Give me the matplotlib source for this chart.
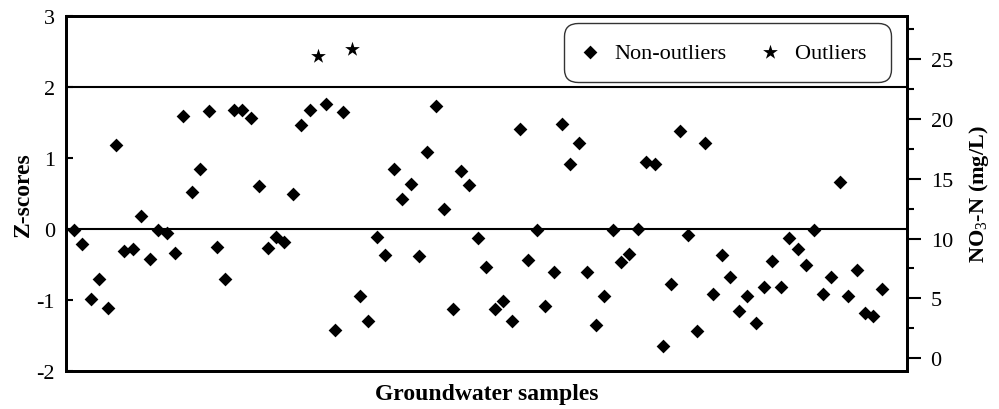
import matplotlib
matplotlib.use("Agg")
import matplotlib.pyplot as plt
import numpy as np

plt.rcParams['font.family'] = ['Liberation Serif', 'DejaVu Serif']
plt.rcParams['mathtext.fontset'] = 'custom'
plt.rcParams['mathtext.rm'] = 'Liberation Serif'
plt.rcParams['mathtext.bf'] = 'Liberation Serif:bold'
plt.rcParams['axes.unicode_minus'] = False

# Z-scores of samples 1..97 (outliers at samples 30 and 34)
z_scores = [
    -0.01, -0.21, -0.99, -0.71, -1.11, 1.18, -0.31, -0.28, 0.19, -0.42,
    -0.01, -0.06, -0.34, 1.59, 0.52, 0.85, 1.66, -0.25, -0.70, 1.67,
    1.68, 1.57, 0.60, -0.27, -0.11, -0.18, 0.49, 1.46, 1.68, 2.43,
    1.76, -1.42, 1.65, 2.53, -0.95, -1.30, -0.11, -0.37, 0.85, 0.42,
    0.63, -0.38, 1.08, 1.73, 0.28, -1.13, 0.82, 0.62, -0.13, -0.53,
    -1.13, -1.01, -1.30, 1.41, -0.43, -0.01, -1.09, -0.61, 1.48, 0.92,
    1.21, -0.61, -1.35, -0.94, -0.02, -0.47, -0.35, 0.00, 0.95, 0.91,
    -1.65, -0.77, 1.38, -0.08, -1.43, 1.21, -0.92, -0.36, -0.68, -1.16,
    -0.94, -1.32, -0.81, -0.45, -0.81, -0.12, -0.28, -0.50, -0.02, -0.92,
    -0.67, 0.66, -0.95, -0.58, -1.18, -1.22, -0.85,
]
outlier_samples = [30, 34]
no3_mean = 10.8
no3_std = 5.94

z = np.array(z_scores)
samples = np.arange(1, len(z) + 1)
is_out = np.isin(samples, outlier_samples)

fig = plt.figure(figsize=(9.99, 4.10), dpi=100)
fig.subplots_adjust(left=66/999, right=907/999, top=1-17/410, bottom=1-372/410)
ax = fig.add_subplot(111)

ax.axhline(0, color='black', lw=1.5, zorder=1)
ax.axhline(2, color='black', lw=1.5, zorder=1)

ax.scatter(samples[~is_out], z[~is_out], marker='D', s=49, color='black',
           linewidths=0, label='Non-outliers', zorder=3)
ax.scatter(samples[is_out], z[is_out], marker='*', s=125, color='black',
           linewidths=0, label='Outliers ', zorder=3)

ax.set_xlim(0.05, 100.0)
ax.set_ylim(-2, 3)
ax.set_xticks([])
ax.set_yticks([-2, -1, 0, 1, 2, 3])
ax.tick_params(axis='y', direction='in', length=5, width=1.5, labelsize=16, pad=8)
for s in ax.spines.values():
    s.set_linewidth(2)

ax.set_ylabel('Z-scores', fontsize=17, fontweight='bold', labelpad=2)
ax.set_xlabel('Groundwater samples', fontsize=17, fontweight='bold', labelpad=9)

ax2 = ax.twinx()
ax2.set_ylim(no3_mean + no3_std * -2, no3_mean + no3_std * 3)
ax2.set_yticks([0, 5, 10, 15, 20, 25])
ax2.set_yticks([2.5, 7.5, 12.5, 17.5, 22.5, 27.5], minor=True)
ax2.tick_params(axis='y', which='major', direction='out', length=10, width=1.5,
                labelsize=16, pad=7)
ax2.tick_params(axis='y', which='minor', direction='out', length=5, width=1.5)
for s in ax2.spines.values():
    s.set_linewidth(2)
ax2.set_ylabel('NO$_3$-N (mg/L)', fontsize=16, fontweight='bold', labelpad=10)

leg = ax.legend(loc='upper right', bbox_to_anchor=(0.981, 0.980), ncol=2,
                fontsize=16, frameon=True, fancybox=True, edgecolor='black',
                handletextpad=0.8, columnspacing=1.65, borderpad=0.87,
                borderaxespad=0, handlelength=0.6, markerscale=1.0)
leg.get_frame().set_linewidth(1.0)
leg.get_frame().set_boxstyle('round,pad=0,rounding_size=0.6')

fig.savefig('out.png', dpi=100)
